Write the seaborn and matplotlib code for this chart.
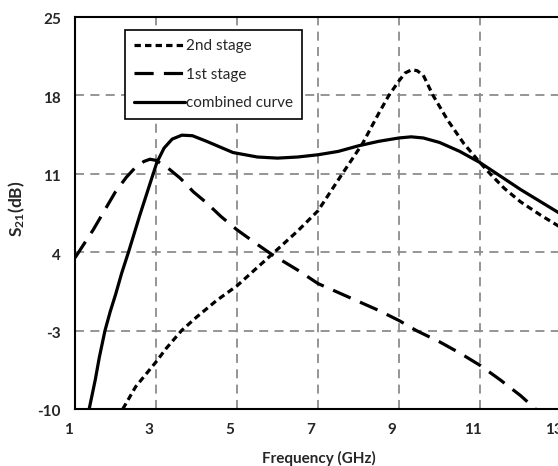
import matplotlib
matplotlib.use("Agg")
import matplotlib.pyplot as plt
import matplotlib.transforms as mtransforms
import seaborn as sns

# ---- data ----
freq_2nd = [2.18, 2.5, 3.0, 3.25, 3.63, 4.0, 4.5, 5.0, 5.86, 6.5, 7.0, 7.6, 8.1,
            8.5, 8.75, 9.0, 9.15, 9.32, 9.45, 9.6, 9.84, 10.2, 10.6, 11.0, 11.25,
            11.6, 12.0, 12.5, 13.0]
s21_2nd = [-10.0, -8.0, -5.8, -4.6, -3.0, -1.8, -0.3, 1.0, 3.8, 5.9, 7.7, 11.0, 13.7,
           16.4, 18.0, 19.3, 20.0, 20.3, 20.2, 19.8, 18.0, 15.8, 13.7, 12.0, 11.0,
           9.7, 8.5, 7.3, 6.2]

freq_1st = [1.0, 1.45, 2.0, 2.27, 2.5, 2.7, 2.85, 3.0, 3.3, 3.6, 3.92, 4.25, 4.6,
            5.0, 5.5, 5.86, 6.5, 7.0, 7.5, 8.0, 8.5, 9.0, 9.43, 10.0, 10.5, 11.0,
            11.5, 12.0, 12.37]
s21_1st = [3.5, 6.0, 9.4, 10.7, 11.6, 12.1, 12.3, 12.2, 11.5, 10.6, 9.4, 8.4, 7.2,
           6.0, 4.7, 3.8, 2.4, 1.2, 0.4, -0.4, -1.2, -2.1, -3.0, -4.0, -5.0, -6.1,
           -7.4, -8.8, -10.0]

freq_comb = [1.35, 1.5, 1.6, 1.74, 1.87, 2.0, 2.15, 2.32, 2.6, 2.85, 3.02, 3.2, 3.4,
             3.64, 3.9, 4.25, 4.9, 5.5, 6.0, 6.5, 7.0, 7.5, 8.0, 8.5, 9.0, 9.3, 9.6,
             10.0, 10.5, 11.0, 11.5, 12.0, 12.5, 13.0]
s21_comb = [-10.0, -7.4, -5.4, -3.0, -1.3, 0.2, 2.1, 4.0, 7.3, 10.1, 12.0, 13.3, 14.1,
            14.45, 14.4, 13.9, 12.9, 12.5, 12.4, 12.5, 12.7, 13.0, 13.5, 13.9, 14.2,
            14.3, 14.2, 13.8, 13.0, 12.0, 10.8, 9.6, 8.5, 7.4]

x_ticks = [1, 3, 5, 7, 9, 11, 13]
y_ticks = [-10, -3, 4, 11, 18, 25]

# ---- styling ----
sns.set_style("white")
plt.rcParams["font.family"] = ["Lato", "DejaVu Sans"]
plt.rcParams["mathtext.fontset"] = "custom"
plt.rcParams["mathtext.rm"] = "Lato:bold"
plt.rcParams["mathtext.bf"] = "Lato:bold"
plt.rcParams["mathtext.default"] = "bf"

fig = plt.figure(figsize=(5.58, 4.66), dpi=100)
W, H = 558, 466
left, right, top, bottom = 75, 561, 17, 409
ax = fig.add_axes([left / W, 1 - bottom / H, (right - left) / W, (bottom - top) / H])

sns.lineplot(x=freq_2nd, y=s21_2nd, ax=ax, color="black", linewidth=2.3,
             label="2nd stage", sort=False)
sns.lineplot(x=freq_1st, y=s21_1st, ax=ax, color="black", linewidth=2.3,
             label="1st stage", sort=False)
sns.lineplot(x=freq_comb, y=s21_comb, ax=ax, color="black", linewidth=2.3,
             label="combined curve", sort=False)
ax.lines[0].set_dashes([2.0, 1.3])
ax.lines[1].set_dashes([6.0, 3.2])

ax.set_xlim(1, 13)
ax.set_ylim(-10, 25)
ax.set_xticks(x_ticks)
ax.set_yticks(y_ticks)
ax.set_xticklabels([str(v) for v in x_ticks])
ax.set_yticklabels([str(v) for v in y_ticks])
ax.tick_params(length=0, labelsize=11, pad=10)
for lab in ax.get_xticklabels() + ax.get_yticklabels():
    lab.set_fontweight("bold")
for lab in ax.get_xticklabels():
    lab.set_transform(lab.get_transform() +
                      mtransforms.ScaledTranslation(-7 / 100, 0, fig.dpi_scale_trans))
for lab in ax.get_yticklabels():
    lab.set_transform(lab.get_transform() +
                      mtransforms.ScaledTranslation(0, -2 / 100, fig.dpi_scale_trans))

ax.set_axisbelow(True)
ax.grid(True, color="#8c8c8c", linestyle=(0, (5, 3.5)), linewidth=1.3)
for sp in ax.spines.values():
    sp.set_color("black")
    sp.set_linewidth(1.5)

ax.set_xlabel("Frequency (GHz)", fontsize=11, fontweight="bold")
ax.set_ylabel(r"S$_{21}$(dB)", fontsize=12.5, fontweight="bold")
ax.xaxis.set_label_coords((318.5 - left) / (right - left), -(451 - bottom) / (bottom - top))
ax.yaxis.set_label_coords(-(75 - 27) / (right - left), 0.51)

leg = ax.legend(loc="upper left",
                bbox_to_anchor=((125 - left) / (right - left), (bottom - 30) / (bottom - top)),
                borderaxespad=0, fontsize=11, frameon=True, fancybox=False,
                handlelength=3.3, handletextpad=0.1, labelspacing=0.95,
                borderpad=0.6)
leg.get_frame().set_edgecolor("black")
leg.get_frame().set_linewidth(1.2)
leg.get_frame().set_alpha(1)

fig.savefig("out.png", dpi=100)
